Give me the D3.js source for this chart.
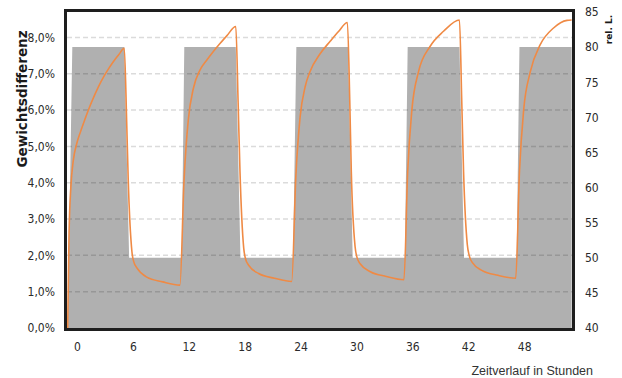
<!DOCTYPE html>
<html>
<head>
<meta charset="utf-8">
<script src="https://cdn.jsdelivr.net/npm/d3@7"></script>
<style>
  body { margin: 0; background: #fff; }
  svg { display: block; }
  .tick text { font-family: "Liberation Sans Narrow", "Arial Narrow", "DejaVu Sans Condensed", sans-serif; font-size: 12px; fill: #2b2b2b; }
</style>
</head>
<body>
<svg id="chart" width="622" height="378"></svg>
<script>
'use strict'

// orange line: weight difference in % over time in hours
const hours = [-1.0, -0.85, -0.65, -0.4, 0.0, 0.4, 0.86, 1.3, 1.75, 2.3, 2.83, 3.4, 3.9, 4.5, 5.08,
  5.33, 5.5, 5.9, 6.1, 6.45, 7.5, 9.2, 11.05,
  11.5, 11.95, 12.5, 13.2, 14.0, 14.6, 15.35, 16.1, 17.05,
  17.3, 17.5, 17.9, 18.1, 18.45, 19.5, 21.2, 23.05,
  23.5, 23.95, 24.5, 25.0, 26.1, 27.2, 28.1, 29.03,
  29.28, 29.45, 29.85, 30.05, 30.4, 31.5, 33.2, 35.1,
  35.5, 35.95, 36.66, 37.9, 39.35, 41.06,
  41.3, 41.5, 41.9, 42.1, 42.45, 43.5, 45.2, 47.1,
  47.5, 47.95, 48.66, 49.73, 51.16, 52.6, 53.1]
const weightDiff = [0, 2.6, 3.9, 4.6, 5.1, 5.42, 5.75, 6.05, 6.33, 6.64, 6.9, 7.14, 7.33, 7.53, 7.7,
  5.73, 4.1, 2.1, 1.82, 1.65, 1.40, 1.27, 1.18,
  4.1, 5.73, 6.6, 7.1, 7.4, 7.6, 7.83, 8.05, 8.30,
  6.2, 4.3, 2.2, 1.9, 1.72, 1.5, 1.37, 1.28,
  4.2, 5.8, 6.65, 7.05, 7.55, 7.9, 8.17, 8.41,
  6.3, 4.3, 2.25, 1.95, 1.77, 1.55, 1.42, 1.33,
  4.3, 6.0, 7.05, 7.75, 8.17, 8.48,
  6.3, 4.3, 2.3, 2.0, 1.8, 1.58, 1.45, 1.37,
  4.3, 6.0, 7.05, 7.8, 8.26, 8.47, 8.48]

// grey area: relative humidity (right axis)
const humHours = [-1.0, -0.5, 5.08, 5.6, 11.25, 11.52, 17.05, 17.55, 23.2, 23.55, 29.1, 29.6,
  35.2, 35.5, 41.06, 41.55, 47.2, 47.5, 53.1]
const relHum = [40, 80, 80, 50, 50, 80, 80, 50, 50, 80, 80, 50, 50, 80, 80, 50, 50, 80, 80]

const xTicks = [0, 6, 12, 18, 24, 30, 36, 42, 48]
const leftTicks = [0, 1, 2, 3, 4, 5, 6, 7, 8]
const rightTicks = [40, 45, 50, 55, 60, 65, 70, 75, 80, 85]

const plot = {left: 67, right: 572, top: 12, bottom: 328}

const svg = d3.select('#chart')

// scales
const x = d3.scaleLinear().domain([-1.07, 53.14]).range([plot.left, plot.right])
const yL = d3.scaleLinear().domain([0, 8.7]).range([plot.bottom, plot.top])
const yR = d3.scaleLinear().domain([40, 85]).range([plot.bottom, plot.top])

// grey humidity area
const humData = humHours.map((h, i) => ({h: h, v: relHum[i]}))
svg.append('path')
  .datum(humData)
  .attr('fill', '#b0b0b0')
  .attr('d', d3.area().x(d => x(d.h)).y0(yR(40)).y1(d => yR(d.v)))

// dashed gridlines (left axis)
svg.append('g')
  .selectAll('line')
  .data(leftTicks.filter(t => t > 0))
  .enter().append('line')
    .attr('x1', plot.left).attr('x2', plot.right)
    .attr('y1', d => yL(d)).attr('y2', d => yL(d))
    .attr('stroke', 'rgba(0,0,0,0.14)')
    .attr('stroke-width', 1.5)
    .attr('stroke-dasharray', '5,3')

// orange weight line
const lineData = hours.map((h, i) => ({h: h, v: weightDiff[i]}))
svg.append('path')
  .datum(lineData)
  .attr('fill', 'none')
  .attr('stroke', '#ef8a45')
  .attr('stroke-width', 1.6)
  .attr('d', d3.line().x(d => x(d.h)).y(d => yL(d.v)).curve(d3.curveMonotoneX))

// frame
svg.append('rect')
  .attr('x', plot.left - 1.5).attr('y', plot.top - 1.5)
  .attr('width', plot.right - plot.left + 3).attr('height', plot.bottom - plot.top + 3)
  .attr('fill', 'none')
  .attr('stroke', '#1e1e1e')
  .attr('stroke-width', 3)

// left axis
const leftAxis = svg.append('g')
  .attr('transform', 'translate(' + (plot.left - 12) + ',0)')
  .call(d3.axisLeft(yL).tickValues(leftTicks).tickSize(0).tickPadding(0)
    .tickFormat(d => d.toFixed(1).replace('.', ',') + '%'))
leftAxis.select('.domain').remove()

// right axis
const rightAxis = svg.append('g')
  .attr('transform', 'translate(' + (plot.right + 13) + ',0)')
  .call(d3.axisRight(yR).tickValues(rightTicks).tickSize(0).tickPadding(0))
rightAxis.select('.domain').remove()

// bottom axis
const bottomAxis = svg.append('g')
  .attr('transform', 'translate(0,' + (plot.bottom + 14) + ')')
  .call(d3.axisBottom(x).tickValues(xTicks).tickSize(0).tickPadding(0).tickFormat(d3.format('')))
bottomAxis.select('.domain').remove()

// axis titles
svg.append('text')
  .attr('transform', 'translate(27,99) rotate(-90)')
  .attr('text-anchor', 'middle')
  .style('font-family', '"DejaVu Sans", sans-serif')
  .style('font-weight', 'bold')
  .style('font-size', '13.5px')
  .style('fill', '#1a1a1a')
  .text('Gewichtsdifferenz')

svg.append('text')
  .attr('transform', 'translate(611.5,29.5) rotate(-90)')
  .attr('text-anchor', 'middle')
  .style('font-family', '"DejaVu Sans", sans-serif')
  .style('font-weight', '700')
  .style('font-size', '9px')
  .style('fill', '#1a1a1a')
  .text('rel. L.')

svg.append('text')
  .attr('x', 593).attr('y', 375)
  .attr('text-anchor', 'end')
  .style('font-family', '"Liberation Sans Narrow", "Arial Narrow", sans-serif')
  .style('font-size', '12.5px')
  .style('fill', '#333')
  .text('Zeitverlauf in Stunden')
</script>
</body>
</html>
